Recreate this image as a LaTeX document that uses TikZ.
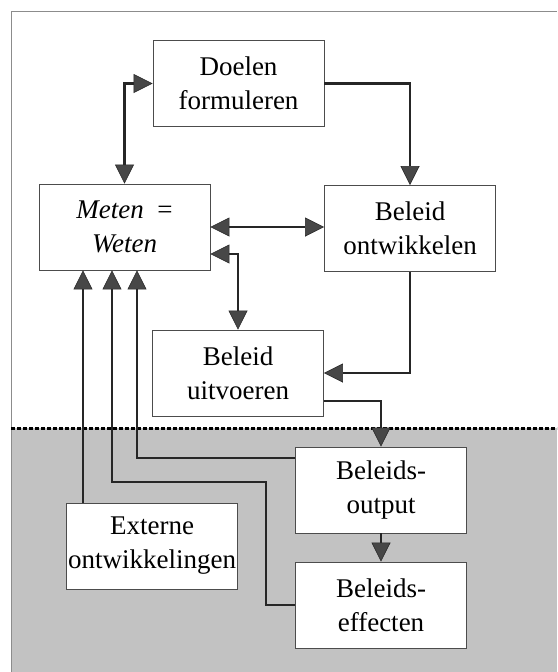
\documentclass[tikz,border=0pt]{standalone}
\usepackage{fontspec}
\setmainfont{Liberation Serif}
\usetikzlibrary{arrows.meta}
\tikzset{
  blok/.style       = {draw=black!70, line width=0.8pt, fill=white, align=center,
                       inner sep=0pt, minimum width=171pt, minimum height=86pt,
                       font=\fontsize{27}{34}\selectfont},
  pijl/.style       = {-{Triangle[length=19pt, width=19pt, fill=black!72, line width=0.6pt]},
                       line width=2.8pt, draw=black!85},
  dubbelpijl/.style = {{Triangle[length=19pt, width=19pt, fill=black!72, line width=0.6pt]}-{Triangle[length=19pt, width=19pt, fill=black!72, line width=0.6pt]},
                       line width=2.8pt, draw=black!85},
  kader/.style      = {draw=black!45, line width=0.8pt}
}
\begin{document}
\begin{tikzpicture}[x=1pt, y=-1pt]
        \useasboundingbox (0,0) rectangle (557,672);
        % achtergrond
        \fill[black!24] (11,428) rectangle (557,672);
        \draw[kader] (11,672) -- (11,11) -- (557,11);
        \draw[line width=3pt, dash pattern=on 3.5pt off 2.5pt] (11,428) -- (557,428);

        \node[blok] (doelen)      at (238.5,83.5) {Doelen\\formuleren};
        \node[blok] (meten)       at (124.5,227)  {\textit{Meten}\enspace=\\\textit{Weten}};
        \node[blok] (ontwikkelen) at (410,228.5)  {Beleid\\ontwikkelen};
        \node[blok] (uitvoeren)   at (238,373)    {Beleid\\uitvoeren};
        \node[blok] (output)      at (381,490)    {Beleids-\\output};
        \node[blok] (effecten)    at (381,605)    {Beleids-\\effecten};
        \node[blok] (extern)      at (152,546)    {Externe\\ontwikkelingen};

        \coordinate (knik) at (266,482);

        \draw[dubbelpijl] (meten.north) |- (doelen.west);
        \draw[pijl] (doelen.east) -| (ontwikkelen.north);
        \draw[dubbelpijl] (meten.east) -- (meten.east -| ontwikkelen.west);
        \draw[dubbelpijl] ([yshift=-27pt]meten.east) -| (uitvoeren.north);
        \draw[pijl] (ontwikkelen.south) |- (uitvoeren.east);
        \draw[pijl] ([yshift=-28pt]uitvoeren.east) -| (output.north);
        \draw[pijl] (output.south) -- (effecten.north);
        \draw[pijl] ([yshift=32pt]output.west) -| ([xshift=12.5pt]meten.south);
        \draw[pijl] (effecten.west) -| (knik) -| ([xshift=-12.5pt]meten.south);
        \draw[pijl] ([xshift=-69pt]extern.north) -- ([xshift=-69pt]extern.north |- meten.south);
    \end{tikzpicture}
\end{document}
